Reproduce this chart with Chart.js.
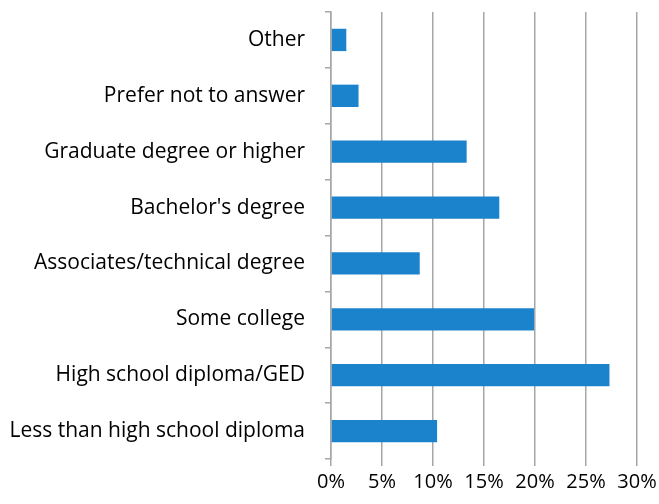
<!DOCTYPE html>
<html>
<head>
<meta charset="utf-8">
<script src="https://cdn.jsdelivr.net/npm/chart.js@4"></script>
<style>
  html, body { margin: 0; padding: 0; background: #fff; }
  #wrap { width: 659px; height: 504px; position: relative; }
</style>
</head>
<body>
<div id="wrap"><canvas id="chart"></canvas></div>
<script>
// Education level, share of respondents (%)
const categories = [
  'Other',
  'Prefer not to answer',
  'Graduate degree or higher',
  "Bachelor's degree",
  'Associates/technical degree',
  'Some college',
  'High school diploma/GED',
  'Less than high school diploma'
];
const shares = [1.5, 2.7, 13.3, 16.5, 8.7, 19.9, 27.3, 10.4];
const xTicks = [0, 5, 10, 15, 20, 25, 30];

const gridColor = '#a6a6a6';
const fontFamily = '"Open Sans", "DejaVu Sans", sans-serif';

const ctx = document.getElementById('chart').getContext('2d');
const chart = new Chart(ctx, {
  type: 'bar',
  data: {
    labels: categories,
    datasets: [{
      data: shares,
      backgroundColor: '#1b83cb',
      borderWidth: 0,
      categoryPercentage: 1,
      barPercentage: 0.4
    }]
  },
  options: {
    indexAxis: 'y',
    responsive: true,
    maintainAspectRatio: false,
    animation: false,
    layout: {
      padding: { top: 12, right: 22, left: 0, bottom: 0 }
    },
    plugins: {
      legend: { display: false },
      tooltip: { enabled: false }
    },
    scales: {
      x: {
        min: 0,
        max: 30,
        afterBuildTicks: (scale) => {
          scale.ticks = xTicks.map(v => ({ value: v }));
        },
        afterFit: (scale) => {
          scale.height = 45;
          scale.paddingLeft = 0;
          scale.paddingRight = 0;
        },
        grid: {
          color: gridColor,
          lineWidth: 1.5,
          tickLength: 7,
          drawOnChartArea: true
        },
        border: { display: false },
        ticks: {
          padding: 4,
          color: '#000',
          maxRotation: 0,
          font: { family: fontFamily, size: 20 },
          callback: (v) => v + '%'
        }
      },
      y: {
        afterFit: (scale) => {
          scale.width = 331;
          scale.paddingTop = 0;
          scale.paddingBottom = 0;
        },
        grid: {
          color: gridColor,
          lineWidth: 1.5,
          drawOnChartArea: false,
          tickLength: 6,
          offset: true
        },
        border: { display: true, color: gridColor, width: 1.5 },
        ticks: {
          padding: 20,
          color: '#000',
          font: { family: fontFamily, size: 21 }
        }
      }
    }
  }
});
</script>
</body>
</html>
